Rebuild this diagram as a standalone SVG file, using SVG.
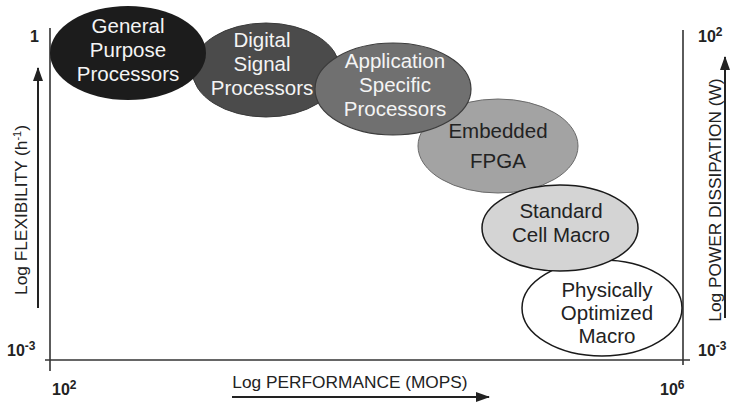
<svg xmlns="http://www.w3.org/2000/svg" width="731" height="406" viewBox="0 0 731 406">
<style>
.t{font-family:"Liberation Sans",Arial,sans-serif;font-size:20.5px;text-anchor:middle}
.w{fill:#f4f4f4}
.d{fill:#222222}
.ax{font-family:"Liberation Sans",Arial,sans-serif;font-size:17.3px;fill:#222}
.tk{font-family:"Liberation Sans",Arial,sans-serif;font-size:16px;font-weight:bold;fill:#222}
.line{stroke:#333;stroke-width:1.6;fill:none}
.arr{stroke:#222;stroke-width:2;fill:none}
</style>
<defs>
<marker id="ah" viewBox="0 0 14 10" refX="13" refY="5" markerWidth="7" markerHeight="5" markerUnits="strokeWidth" orient="auto">
<path d="M0,0 L14,5 L0,10 Z" fill="#222"/>
</marker>
</defs>
<rect width="731" height="406" fill="#fff"/>
<g id="axes">
<line class="line" x1="50" y1="28" x2="50" y2="371"/>
<line class="line" x1="45" y1="360" x2="690" y2="360"/>
<line class="line" x1="683" y1="30" x2="683" y2="365"/>
</g>
<g id="connectors">
<line class="arr" x1="38" y1="308" x2="38" y2="68" marker-end="url(#ah)"/>
<line class="arr" x1="725" y1="318" x2="725" y2="57" marker-end="url(#ah)"/>
<line class="arr" x1="232" y1="397" x2="489" y2="397" marker-end="url(#ah)"/>
</g>
<g id="labels">
<text class="tk" x="30" y="42">1</text>
<text class="tk" x="7" y="356">10<tspan font-size="12" dy="-6">-3</tspan></text>
<text class="tk" x="698" y="42">10<tspan font-size="12" dy="-6">2</tspan></text>
<text class="tk" x="698" y="356">10<tspan font-size="12" dy="-6">-3</tspan></text>
<text class="tk" x="52" y="395">10<tspan font-size="12" dy="-6">2</tspan></text>
<text class="tk" x="660" y="395">10<tspan font-size="12" dy="-6">6</tspan></text>
<text class="ax" x="350" y="388" text-anchor="middle">Log PERFORMANCE (MOPS)</text>
<text class="ax" transform="translate(27,210) rotate(-90)" text-anchor="middle">Log FLEXIBILITY (h<tspan font-size="11" dy="-6">-1</tspan><tspan dy="6">)</tspan></text>
<text class="ax" transform="translate(721,200) rotate(-90)" text-anchor="middle">Log POWER DISSIPATION (W)</text>
</g>
<g id="node-dsp">
<ellipse cx="266" cy="70" rx="74" ry="47" fill="#4b4b4b" stroke="#3a3a3a" stroke-width="1"/>
<text class="t w" x="262" y="47">Digital</text>
<text class="t w" x="262" y="71">Signal</text>
<text class="t w" x="262" y="95">Processors</text>
</g>
<g id="node-gpp">
<ellipse cx="128" cy="53" rx="78" ry="47" fill="#1c1c1c"/>
<text class="t w" x="128" y="33">General</text>
<text class="t w" x="128" y="57">Purpose</text>
<text class="t w" x="128" y="81">Processors</text>
</g>
<g id="node-efpga">
<ellipse cx="498" cy="146" rx="80" ry="47" fill="#a3a3a3" stroke="#6a6a6a" stroke-width="1"/>
<text class="t d" x="498" y="138">Embedded</text>
<text class="t d" x="498" y="168">FPGA</text>
</g>
<g id="node-asp">
<ellipse cx="393" cy="89" rx="78" ry="46" fill="#707070" stroke="#3c3c3c" stroke-width="1.2"/>
<text class="t w" x="395" y="68">Application</text>
<text class="t w" x="395" y="92">Specific</text>
<text class="t w" x="395" y="116">Processors</text>
</g>
<g id="node-pom">
<ellipse cx="602" cy="308" rx="80" ry="48" fill="#ffffff" stroke="#1a1a1a" stroke-width="1.5"/>
<text class="t d" x="607" y="297">Physically</text>
<text class="t d" x="607" y="320">Optimized</text>
<text class="t d" x="607" y="343">Macro</text>
</g>
<g id="node-scm">
<ellipse cx="560" cy="228" rx="78" ry="43" fill="#d4d4d4" stroke="#1a1a1a" stroke-width="1.5"/>
<text class="t d" x="561" y="218">Standard</text>
<text class="t d" x="561" y="242">Cell Macro</text>
</g>
</svg>
